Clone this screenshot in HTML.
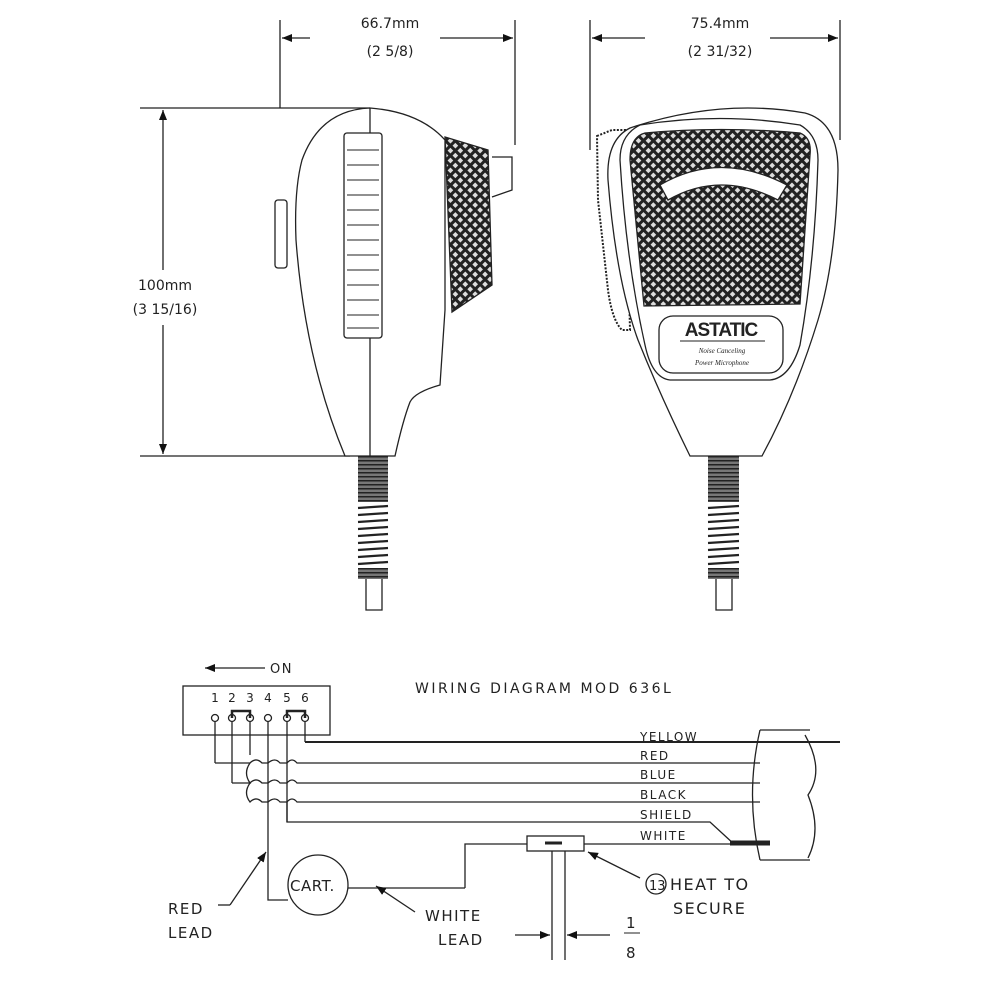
<!DOCTYPE html>
<html><head><meta charset="utf-8"><style>
html,body{margin:0;padding:0;background:#fff}
svg{display:block}
text{font-family:"DejaVu Sans","Liberation Sans",sans-serif;fill:#222}
</style></head><body>
<svg width="1000" height="1000" viewBox="0 0 1000 1000" xmlns="http://www.w3.org/2000/svg">
<defs>
<pattern id="hatch" width="7" height="7" patternUnits="userSpaceOnUse" patternTransform="rotate(45)">
<rect width="7" height="7" fill="#ddd"/>
<rect width="7" height="3" fill="#222"/><rect width="3" height="7" fill="#222"/>
</pattern>
<pattern id="wrap" width="6" height="4" patternUnits="userSpaceOnUse">
<rect width="6" height="4" fill="#777"/><rect width="6" height="1.5" fill="#222"/>
</pattern>
<marker id="ah" markerWidth="10" markerHeight="8" refX="10" refY="4" orient="auto" markerUnits="userSpaceOnUse">
<path d="M0,0 L10,4 L0,8 z" fill="#111"/></marker>
</defs>
<g stroke="#222" fill="none" stroke-width="1.3">
<line x1="280" y1="20" x2="280" y2="108"/><line x1="515" y1="20" x2="515" y2="145"/>
<line x1="310" y1="38" x2="282" y2="38" marker-end="url(#ah)"/>
<line x1="440" y1="38" x2="513" y2="38" marker-end="url(#ah)"/>
<line x1="590" y1="20" x2="590" y2="150"/><line x1="840" y1="20" x2="840" y2="140"/>
<line x1="645" y1="38" x2="592" y2="38" marker-end="url(#ah)"/>
<line x1="770" y1="38" x2="838" y2="38" marker-end="url(#ah)"/>
<line x1="140" y1="108" x2="370" y2="108"/><line x1="140" y1="456" x2="350" y2="456"/>
<line x1="163" y1="270" x2="163" y2="110" marker-end="url(#ah)"/>
<line x1="163" y1="325" x2="163" y2="454" marker-end="url(#ah)"/>
<!-- side view -->
<path d="M370,108 Q320,110 302,160 Q294,190 296,240 Q305,360 345,456 L395,456 Q403,420 410,402 Q415,392 440,385 L445,310 L445,140 Q420,112 370,108 Z" fill="#fff"/>
<line x1="370" y1="108" x2="370" y2="456"/>
<rect x="344" y="133" width="38" height="205" rx="3" fill="#fff"/>
<g stroke-width="1">
<line x1="347" y1="150" x2="379" y2="150"/><line x1="347" y1="165" x2="379" y2="165"/><line x1="347" y1="180" x2="379" y2="180"/><line x1="347" y1="195" x2="379" y2="195"/><line x1="347" y1="210" x2="379" y2="210"/><line x1="347" y1="225" x2="379" y2="225"/><line x1="347" y1="240" x2="379" y2="240"/><line x1="347" y1="255" x2="379" y2="255"/><line x1="347" y1="270" x2="379" y2="270"/><line x1="347" y1="285" x2="379" y2="285"/><line x1="347" y1="300" x2="379" y2="300"/><line x1="347" y1="315" x2="379" y2="315"/><line x1="347" y1="328" x2="379" y2="328"/>
</g>
<rect x="275" y="200" width="12" height="68" rx="3" fill="#fff"/>
<path d="M445,137 L488,150 L492,285 L452,312 Z" fill="url(#hatch)"/>
<path d="M492,157 L512,157 L512,190 L492,197"/>
<rect x="358" y="456" width="30" height="46" fill="url(#wrap)" stroke="none"/>
<g stroke-width="2.2">
<line x1="358" y1="508" x2="388" y2="506"/><line x1="358" y1="515" x2="388" y2="513"/><line x1="358" y1="522" x2="388" y2="520"/><line x1="358" y1="529" x2="388" y2="527"/><line x1="358" y1="536" x2="388" y2="534"/><line x1="358" y1="543" x2="388" y2="541"/><line x1="358" y1="550" x2="388" y2="548"/><line x1="358" y1="557" x2="388" y2="555"/><line x1="358" y1="564" x2="388" y2="562"/>
</g>
<rect x="358" y="568" width="30" height="11" fill="url(#wrap)" stroke="none"/>
<path d="M366,579 L366,610 L382,610 L382,579"/>
<!-- front view -->
<path d="M597,136 L612,130 L625,130 L630,330 L622,330 Q612,320 608,290 L598,200 Z" fill="#fff" stroke-dasharray="2 1.5" stroke-width="2"/>
<path d="M630,128 Q720,98 805,113 Q838,122 838,170 Q836,260 818,320 Q795,395 762,456 L690,456 Q660,395 638,340 Q616,280 608,180 Q606,140 630,128 Z" fill="#fff"/>
<path d="M640,125 Q720,112 800,125 Q818,135 818,160 Q815,260 800,345 Q790,378 770,380 L670,380 Q652,378 645,345 Q626,260 620,160 Q620,135 640,125 Z"/>
<path d="M645,133 Q720,126 800,133 Q812,138 810,155 L800,304 L644,306 L630,160 Q630,137 645,133 Z" fill="url(#hatch)"/>
<path d="M660,185 Q720,150 787,185 L778,200 Q720,170 668,200 Z" fill="#fff"/>
<rect x="659" y="316" width="124" height="57" rx="14" fill="#fff"/>
</g>
<text x="721" y="336" font-size="19" font-weight="bold" text-anchor="middle" style="font-family:'Liberation Sans',sans-serif" letter-spacing="-1">ASTATIC</text>
<line x1="680" y1="341" x2="765" y2="341" stroke="#222"/>
<text x="722" y="353" font-size="7" font-style="italic" text-anchor="middle" style="font-family:'Liberation Serif',serif">Noise Canceling</text>
<text x="722" y="365" font-size="7" font-style="italic" text-anchor="middle" style="font-family:'Liberation Serif',serif">Power Microphone</text>
<g stroke="#222" fill="none" stroke-width="1.3">
<rect x="708" y="456" width="31" height="46" fill="url(#wrap)" stroke="none"/>
<g stroke-width="2.2">
<line x1="708" y1="508" x2="739" y2="506"/><line x1="708" y1="515" x2="739" y2="513"/><line x1="708" y1="522" x2="739" y2="520"/><line x1="708" y1="529" x2="739" y2="527"/><line x1="708" y1="536" x2="739" y2="534"/><line x1="708" y1="543" x2="739" y2="541"/><line x1="708" y1="550" x2="739" y2="548"/><line x1="708" y1="557" x2="739" y2="555"/><line x1="708" y1="564" x2="739" y2="562"/>
</g>
<rect x="708" y="568" width="31" height="11" fill="url(#wrap)" stroke="none"/>
<path d="M716,579 L716,610 L732,610 L732,579"/>
</g>
<g font-size="14" text-anchor="middle">
<text x="390" y="28">66.7mm</text><text x="390" y="56">(2 5/8)</text>
<text x="720" y="28">75.4mm</text><text x="720" y="56">(2 31/32)</text>
<text x="165" y="290">100mm</text><text x="165" y="314">(3 15/16)</text>
</g>
<!-- wiring diagram -->
<g stroke="#222" fill="none" stroke-width="1.3">
<line x1="265" y1="668" x2="205" y2="668" marker-end="url(#ah)"/>
<rect x="183" y="686" width="147" height="49"/>
<g fill="#fff"><circle cx="215" cy="718" r="3.5"/><circle cx="232" cy="718" r="3.5"/><circle cx="250" cy="718" r="3.5"/><circle cx="268" cy="718" r="3.5"/><circle cx="287" cy="718" r="3.5"/><circle cx="305" cy="718" r="3.5"/></g>
<path d="M232,718 L232,711 L250,711 L250,718 M287,718 L287,711 L305,711 L305,718" stroke-width="2.5"/>
<line x1="215" y1="722" x2="215" y2="763"/><line x1="232" y1="722" x2="232" y2="783"/>
<line x1="250" y1="722" x2="250" y2="755"/><line x1="268" y1="722" x2="268" y2="880"/>
<line x1="287" y1="722" x2="287" y2="822"/><line x1="305" y1="722" x2="305" y2="742"/>
<line x1="305" y1="742" x2="840" y2="742" stroke-width="2"/>
<path d="M215,763 L250,763 Q256,757 262,763 L268,763 Q275,757 280,763 L287,763 Q292,757 297,763 L760,763"/>
<path d="M232,783 L250,783 Q243,773 250,763 M250,783 Q256,777 262,783 L268,783 Q275,777 280,783 L287,783 Q292,777 297,783 L760,783"/>
<path d="M250,783 Q243,793 250,802 Q256,796 262,802 L268,802 Q275,796 280,802 L287,802 Q292,796 297,802 L760,802"/>
<path d="M287,802 L287,822 L710,822 L735,845"/>
<path d="M465,888 L465,844 L760,844"/>
<path d="M730,843 L770,843" stroke-width="5"/>
<path d="M760,730 Q745,795 760,860 M760,730 L810,730 M760,860 L810,860 M805,735 Q825,770 808,795 Q822,830 808,858"/>
<line x1="760" y1="742" x2="840" y2="742"/>
<circle cx="318" cy="885" r="30" fill="#fff"/>
<path d="M268,880 L268,900 L288,900"/>
<path d="M348,888 L465,888"/>
<rect x="527" y="836" width="57" height="15" fill="#fff"/>
<line x1="545" y1="843" x2="562" y2="843" stroke-width="3"/>
<line x1="552" y1="851" x2="552" y2="960"/><line x1="565" y1="851" x2="565" y2="960"/>
<line x1="515" y1="935" x2="550" y2="935" marker-end="url(#ah)"/>
<line x1="610" y1="935" x2="567" y2="935" marker-end="url(#ah)"/>
<line x1="640" y1="878" x2="588" y2="852" marker-end="url(#ah)"/>
<circle cx="656" cy="884" r="10"/>
<line x1="230" y1="905" x2="266" y2="852" marker-end="url(#ah)"/>
<line x1="218" y1="905" x2="230" y2="905"/>
<line x1="415" y1="912" x2="376" y2="886" marker-end="url(#ah)"/>
</g>
<g font-size="13" letter-spacing="1.5">
<text x="270" y="673">ON</text>
<text x="415" y="693" font-size="14" letter-spacing="2.5">WIRING DIAGRAM MOD 636L</text>
<g font-size="12" letter-spacing="0" text-anchor="middle">
<text x="215" y="702">1</text><text x="232" y="702">2</text><text x="250" y="702">3</text><text x="268" y="702">4</text><text x="287" y="702">5</text><text x="305" y="702">6</text>
</g>
<g font-size="12">
<text x="640" y="741">YELLOW</text><text x="640" y="760">RED</text><text x="640" y="779">BLUE</text>
<text x="640" y="799">BLACK</text><text x="640" y="819">SHIELD</text><text x="640" y="840">WHITE</text>
</g>
<text x="290" y="891" font-size="15" letter-spacing="0.5">CART.</text>
<text x="168" y="914" font-size="15">RED</text><text x="168" y="938" font-size="15">LEAD</text>
<text x="425" y="921" font-size="15" fill="#888">WHITE</text><text x="438" y="945" font-size="15" fill="#888">LEAD</text>
<text x="649" y="890" font-size="13" letter-spacing="0">13</text>
<text x="670" y="890" font-size="16">HEAT TO</text><text x="673" y="914" font-size="16">SECURE</text>
<text x="626" y="928" font-size="15">1</text><text x="626" y="958" font-size="15">8</text>
</g>
<line x1="624" y1="933" x2="640" y2="933" stroke="#222"/>
</svg>
</body></html>
